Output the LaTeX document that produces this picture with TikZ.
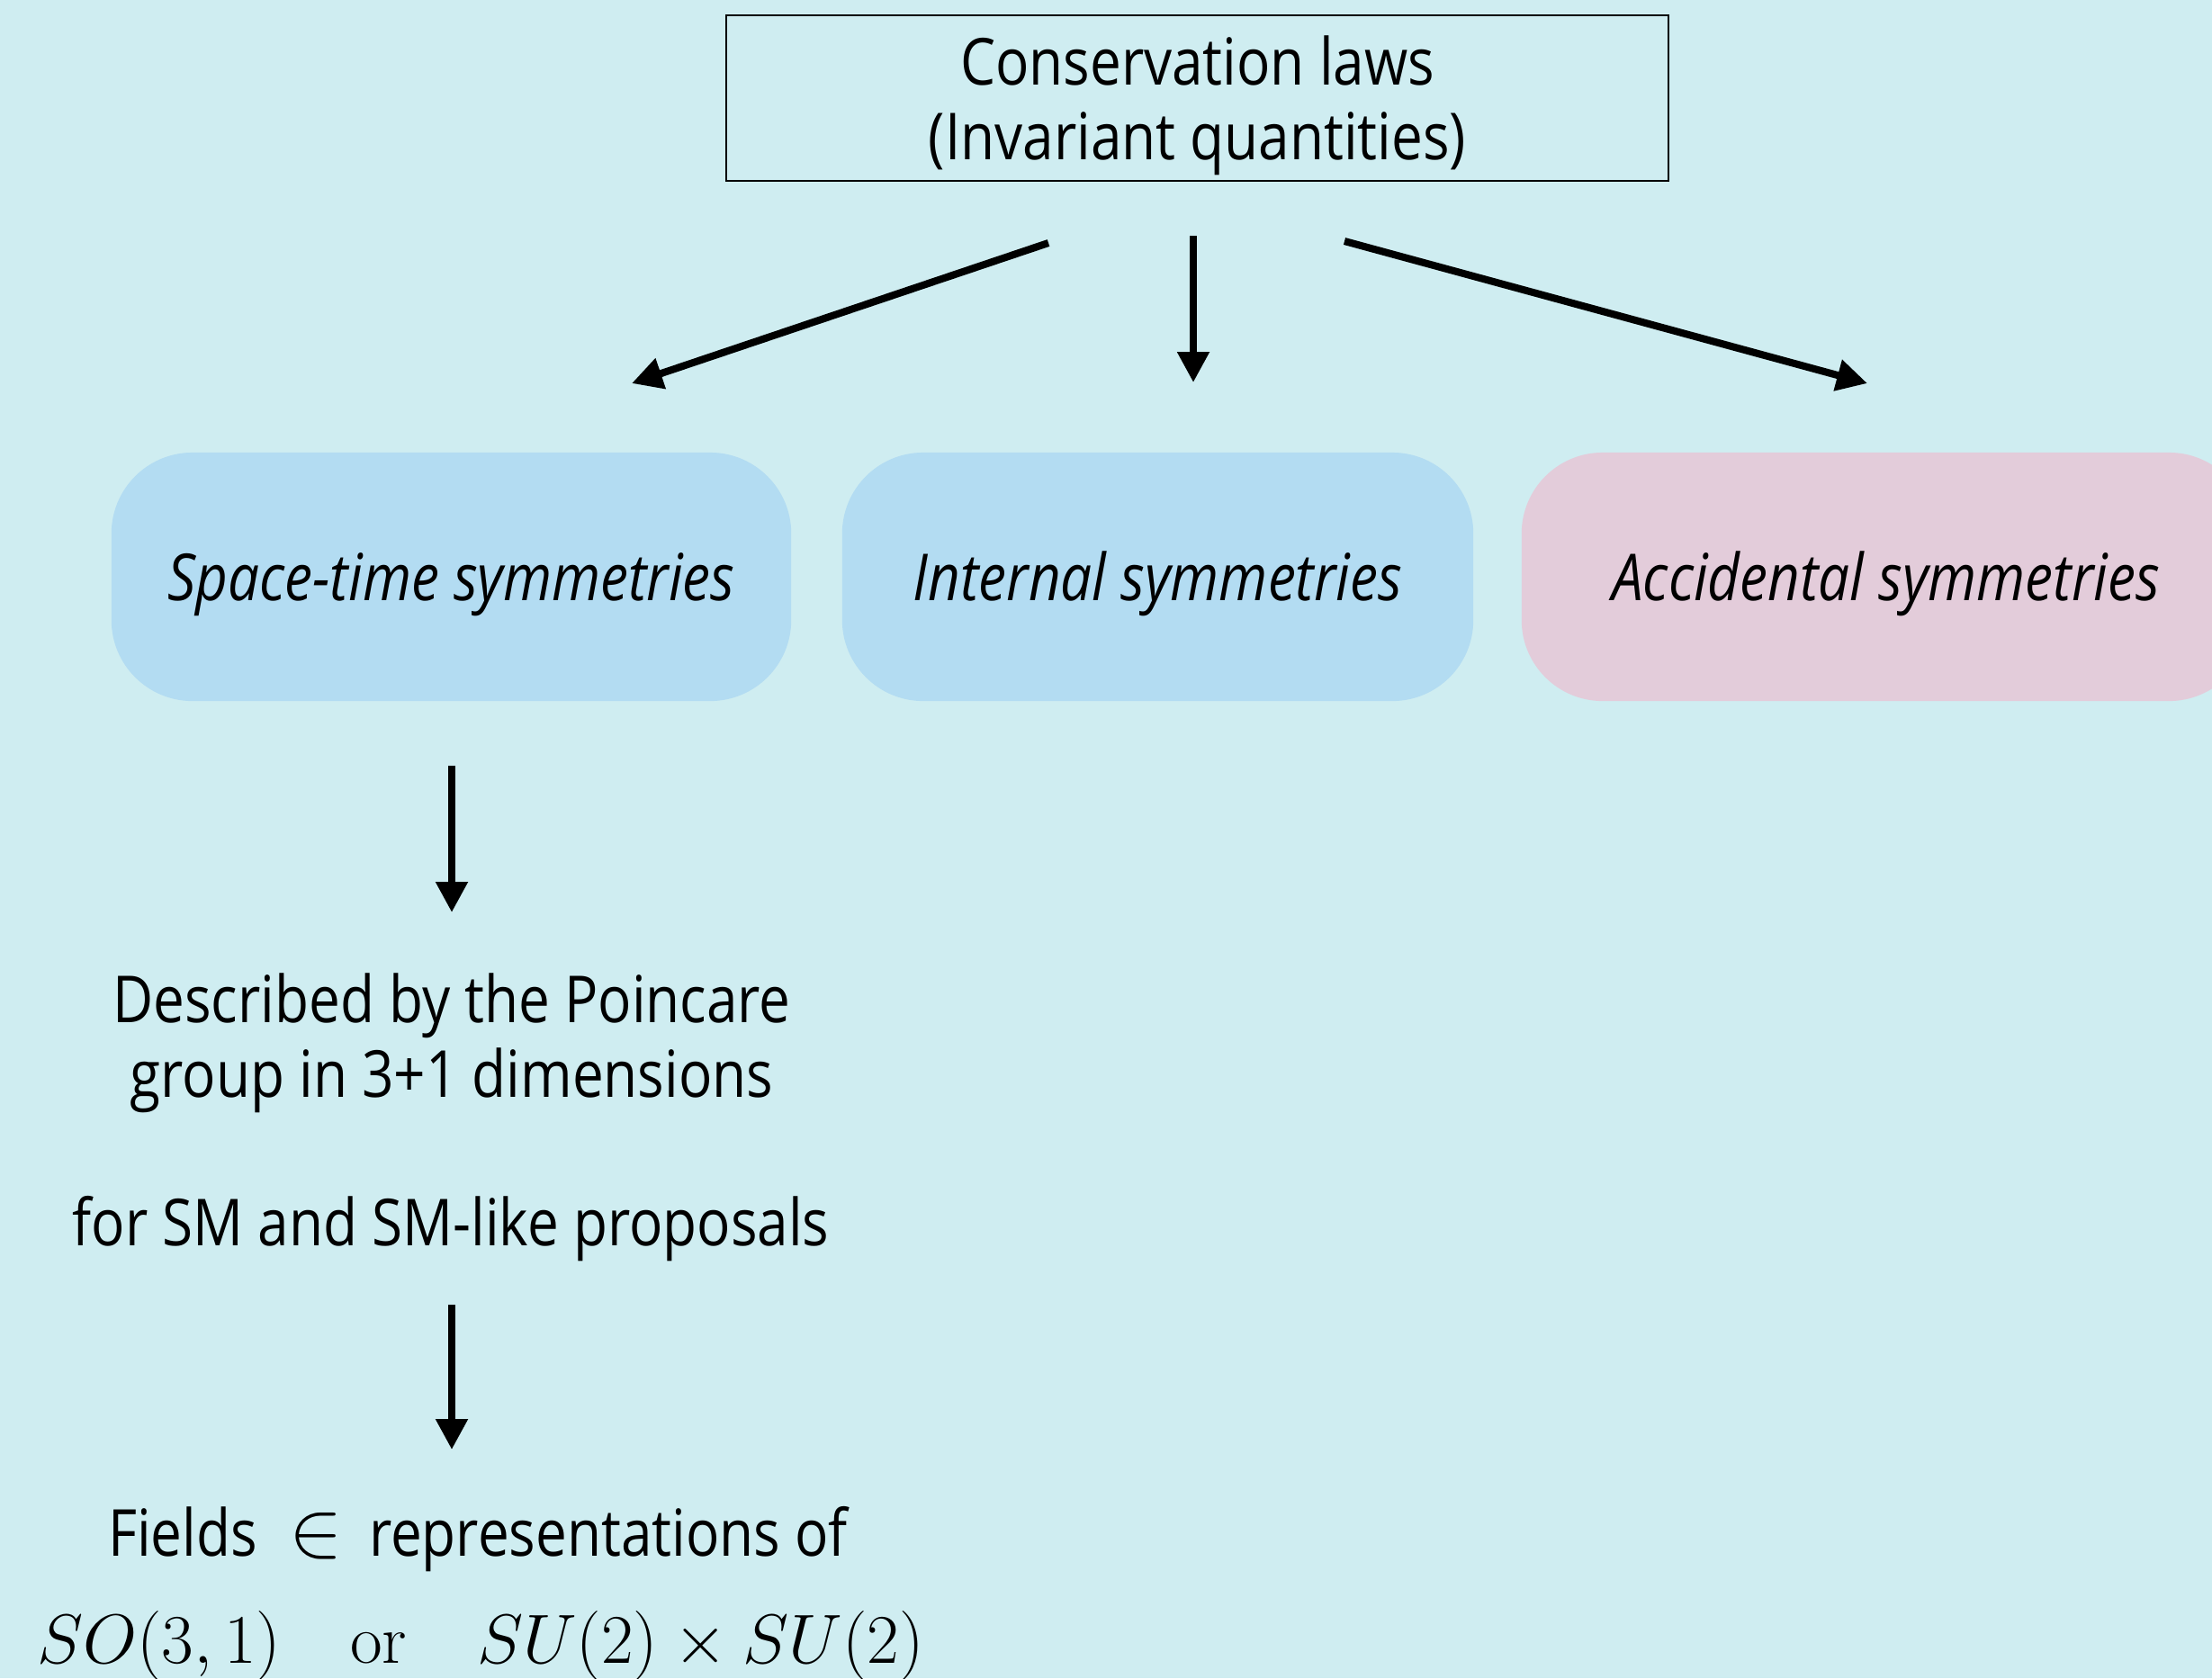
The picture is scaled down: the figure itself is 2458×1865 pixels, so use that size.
\documentclass[tikz,border=0pt]{standalone}
\usepackage{graphicx}
\usepackage[no-math]{fontspec}
\setmainfont{Open Sans}[FakeStretch=0.86]
\usetikzlibrary{arrows.meta}
\definecolor{bg}{RGB}{207,237,241}
\definecolor{symblue}{RGB}{179,220,242}
\definecolor{sympink}{RGB}{227,204,218}
\begin{document}
\begin{tikzpicture}[x=0.01cm,y=-0.01cm,
  txt/.style={font=\fontsize{20.5}{23.6}\selectfont, align=center, inner sep=0pt},
  symbox/.style={rounded corners=0.9cm, minimum height=2.76cm, inner sep=0pt,
    text height=0.70cm, text depth=0.18cm,
    font=\fontsize{20.5}{23.6}\selectfont\itshape},
  flow/.style={line width=2.3pt, -{Triangle[length=0.34cm,width=0.34cm]}}]
\fill[bg] (0,0) rectangle (2458,1865);
\useasboundingbox (0,0) rectangle (2458,1865);
\clip (0,0) rectangle (2458,1865);

% header box with a separate text block
\node[draw, line width=0.6pt, minimum width=10.47cm, minimum height=1.84cm]
  (laws) at (1330.5,109) {};
\node[txt] (lawstext) at (1330.5,117) {Conservation laws\\(Invariant quantities)};

% three kinds of symmetry
\node[symbox, fill=symblue, minimum width=7.55cm] (spacetime) at (501.5,641) {Space-time symmetries};
\node[symbox, fill=symblue, minimum width=7.01cm] (internal) at (1286.5,641) {Internal symmetries};
\node[symbox, fill=sympink, minimum width=8.09cm] (accidental) at (2095.5,641) {Accidental symmetries};

% space-time branch
\node[txt] (poincare) at (502,1159) {Described by the Poincare\\group in 3+1 dimensions};
\node[txt] (smlike) at (501,1366) {for SM and SM-like proposals};
\node[txt] (fields) at (531,1711)
  {Fields\hspace{0.5em}\scalebox{1.22}{$\in$}\hspace{0.4em}representations of};
\node[txt, font=\fontsize{20.74}{24}\selectfont] (groups) at (534,1829)
  {\scalebox{1.062}{$SO(3,1)\quad\mathrm{or}\quad SU(2)\times SU(2)$}};

% arrow end points
\coordinate (l0) at (1165,270); \coordinate (l1) at (702,426);
\coordinate (m0) at (1326,262); \coordinate (m1) at (1326,425);
\coordinate (r0) at (1494,268); \coordinate (r1) at (2075,426);
\coordinate (s0) at (502,851);  \coordinate (s1) at (502,1014);
\coordinate (f0) at (502,1450); \coordinate (f1) at (502,1611);

\draw[flow] (l0) -- (l1);
\draw[flow] (m0) -- (m1);
\draw[flow] (r0) -- (r1);
\draw[flow] (s0) -- (s1);
\draw[flow] (f0) -- (f1);
\end{tikzpicture}
\end{document}
